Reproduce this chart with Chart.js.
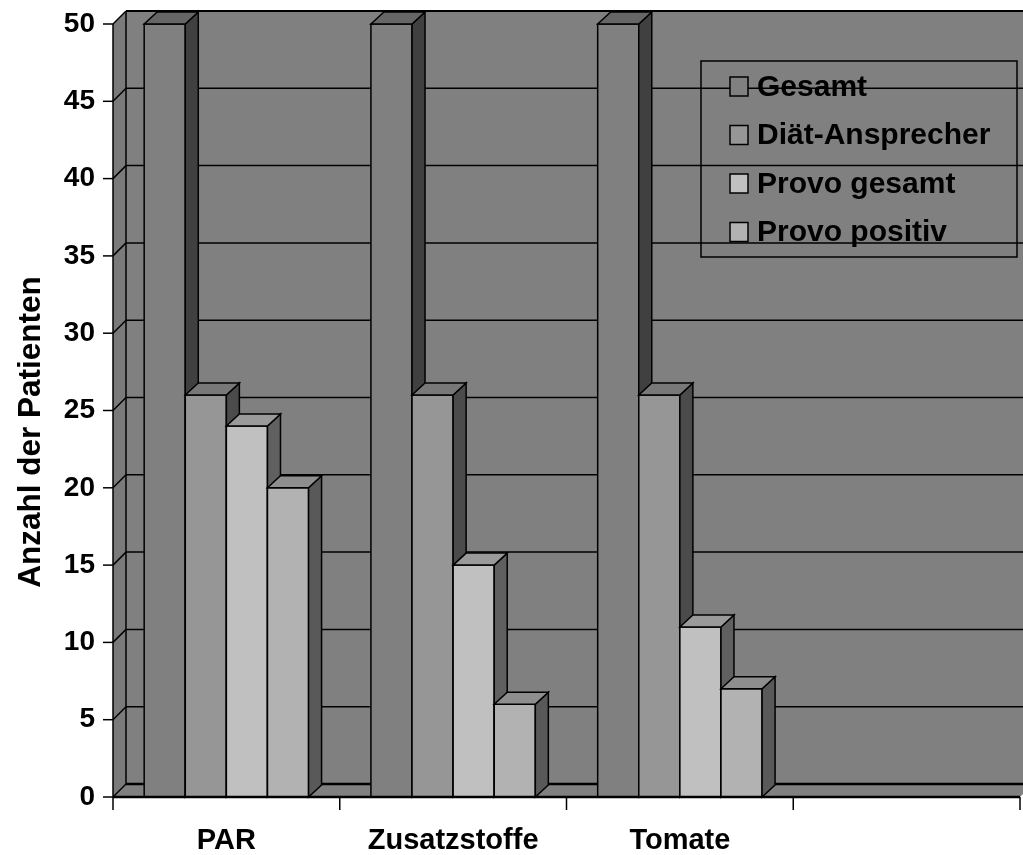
<!DOCTYPE html>
<html>
<head>
<meta charset="utf-8">
<title>Anzahl der Patienten</title>
<script src="https://cdn.jsdelivr.net/npm/chart.js@4/dist/chart.umd.min.js"></script>
<style>
  html, body { margin: 0; padding: 0; background: #ffffff; }
  canvas { display: block; }
</style>
</head>
<body>
<canvas id="chart" width="1023" height="855"></canvas>
<script>
// Categories on the x axis (the fourth slot is left empty)
const categories = ['PAR', 'Zusatzstoffe', 'Tomate', ''];

// Series names and values
const seriesNames = ['Gesamt', 'Diät-Ansprecher', 'Provo gesamt', 'Provo positiv'];
const gesamt          = [50, 50, 50, null];
const diaetAnsprecher = [26, 26, 26, null];
const provoGesamt     = [24, 15, 11, null];
const provoPositiv    = [20,  6,  7, null];

// Value axis
const yMin = 0;
const yMax = 50;
const yStep = 5;
const yTitle = 'Anzahl der Patienten';

// Face colours: front, top, side
const palette = [
  { front: '#808080', top: '#666666', side: '#404040' },
  { front: '#969696', top: '#787878', side: '#4b4b4b' },
  { front: '#c0c0c0', top: '#9a9a9a', side: '#606060' },
  { front: '#b2b2b2', top: '#8e8e8e', side: '#595959' }
];

const FONT = '"Liberation Sans", Arial, Helvetica, sans-serif';
const WALL_DX = 13, WALL_DY = 13;   // depth of the walls
const BAR_DX = 13, BAR_DY = 12;     // depth of each bar

function poly(ctx, pts, fill, stroke, lw) {
  ctx.beginPath();
  ctx.moveTo(pts[0][0], pts[0][1]);
  for (let i = 1; i < pts.length; i++) ctx.lineTo(pts[i][0], pts[i][1]);
  ctx.closePath();
  if (fill) { ctx.fillStyle = fill; ctx.fill(); }
  if (stroke) { ctx.strokeStyle = stroke; ctx.lineWidth = lw || 1.5; ctx.stroke(); }
}

function line(ctx, x1, y1, x2, y2, lw) {
  ctx.beginPath();
  ctx.moveTo(x1, y1);
  ctx.lineTo(x2, y2);
  ctx.strokeStyle = '#000';
  ctx.lineWidth = lw || 1.5;
  ctx.stroke();
}

// Walls, floor and back gridlines of the 3D box
const box3d = {
  id: 'box3d',
  beforeDatasetsDraw(chart) {
    const { ctx, chartArea: a, scales: { y } } = chart;
    const W = chart.width;
    const y0 = y.getPixelForValue(yMin);
    const yT = y.getPixelForValue(yMax);
    ctx.save();
    // back wall
    ctx.fillStyle = '#808080';
    ctx.fillRect(a.left + WALL_DX, yT - WALL_DY, W - a.left, y0 - yT);
    // left wall
    poly(ctx, [[a.left, yT], [a.left + WALL_DX, yT - WALL_DY], [a.left + WALL_DX, y0 - WALL_DY], [a.left, y0]], '#7a7a7a');
    // floor
    poly(ctx, [[a.left, y0], [a.left + WALL_DX, y0 - WALL_DY], [a.right + WALL_DX, y0 - WALL_DY], [a.right, y0]], '#808080');
    // gridlines on back wall and left wall
    for (let v = yMin; v <= yMax; v += yStep) {
      const py = y.getPixelForValue(v);
      line(ctx, a.left, py, a.left + WALL_DX, py - WALL_DY, 1.5);
      if (v > yMin) line(ctx, a.left + WALL_DX, py - WALL_DY, W, py - WALL_DY, v === yMax ? 2 : 1.5);
    }
    // back edge of floor
    line(ctx, a.left + WALL_DX, y0 - WALL_DY, W, y0 - WALL_DY, 2.5);
    // vertical edges
    line(ctx, a.left + WALL_DX, yT - WALL_DY, a.left + WALL_DX, y0 - WALL_DY, 1.5);
    line(ctx, a.left, yT, a.left, y0, 1.5);
    ctx.restore();
  },
  afterDatasetsDraw(chart) {
    const { ctx, chartArea: a, scales: { y } } = chart;
    const bars = [];
    chart.data.datasets.forEach((ds, di) => {
      const meta = chart.getDatasetMeta(di);
      meta.data.forEach((el, i) => {
        if (ds.data[i] == null) return;
        const p = el.getProps(['x', 'y', 'base', 'width'], true);
        bars.push({ ...p, c: palette[di] });
      });
    });
    bars.sort((m, n) => m.x - n.x);
    ctx.save();
    ctx.lineJoin = 'miter';
    for (const b of bars) {
      const l = b.x - b.width / 2, r = b.x + b.width / 2;
      // front face
      poly(ctx, [[l, b.y], [r, b.y], [r, b.base], [l, b.base]], b.c.front, '#000', 1.5);
      // side face
      poly(ctx, [[r, b.y], [r + BAR_DX, b.y - BAR_DY], [r + BAR_DX, b.base - BAR_DY], [r, b.base]], b.c.side, '#000', 1.5);
      // top face
      poly(ctx, [[l, b.y], [l + BAR_DX, b.y - BAR_DY], [r + BAR_DX, b.y - BAR_DY], [r, b.y]], b.c.top, '#000', 1.5);
    }
    // front edge of floor and axis tick marks
    const y0 = y.getPixelForValue(yMin);
    line(ctx, a.left, y0, a.right, y0, 2.5);
    for (let v = yMin; v <= yMax; v += yStep) {
      const py = y.getPixelForValue(v);
      line(ctx, a.left - 10, py, a.left, py, 1.5);
    }
    const n = categories.length;
    for (let i = 0; i <= n; i++) {
      const px = a.left + (a.right - a.left) * i / n;
      line(ctx, px, y0, px, y0 + 13, 1.5);
    }
    ctx.restore();
  },
  afterDraw(chart) {
    const { ctx } = chart;
    ctx.save();
    // y axis title
    ctx.translate(31, 432);
    ctx.rotate(-Math.PI / 2);
    ctx.fillStyle = '#000';
    ctx.font = 'bold 31.5px ' + FONT;
    ctx.textAlign = 'center';
    ctx.textBaseline = 'middle';
    ctx.fillText(yTitle, 0, 0);
    ctx.restore();

    // legend
    ctx.save();
    ctx.strokeStyle = '#000';
    ctx.lineWidth = 1.5;
    ctx.strokeRect(701, 61, 316, 196);
    ctx.font = 'bold 30px ' + FONT;
    ctx.textBaseline = 'middle';
    ctx.textAlign = 'left';
    chart.data.datasets.forEach((ds, i) => {
      const cy = 86.5 + i * 48.5;
      ctx.fillStyle = ds.backgroundColor;
      ctx.fillRect(730, cy - 9.5, 18, 19);
      ctx.strokeRect(730, cy - 9.5, 18, 19);
      ctx.fillStyle = '#000';
      ctx.fillText(ds.label, 757, cy + 1);
    });
    ctx.restore();
  }
};

const seriesValues = [gesamt, diaetAnsprecher, provoGesamt, provoPositiv];

new Chart(document.getElementById('chart'), {
  type: 'bar',
  data: {
    labels: categories,
    datasets: seriesNames.map((name, i) => ({
      label: name,
      data: seriesValues[i],
      backgroundColor: palette[i].front,
      borderColor: '#000',
      borderWidth: 0,
      categoryPercentage: 0.725,
      barPercentage: 1.0
    }))
  },
  options: {
    responsive: false,
    animation: false,
    events: [],
    layout: { padding: { top: 24, right: 3, left: 0, bottom: 0 } },
    plugins: {
      legend: { display: false },
      tooltip: { enabled: false }
    },
    scales: {
      x: {
        grid: { display: false },
        border: { display: false },
        ticks: {
          color: '#000',
          font: { family: FONT, size: 29, weight: 'bold' },
          padding: 19,
          maxRotation: 0,
          autoSkip: false
        },
        afterFit(s) { s.height = 58; s.paddingLeft = 0; s.paddingRight = 0; }
      },
      y: {
        min: yMin,
        max: yMax,
        grid: { display: false },
        border: { display: false },
        ticks: {
          stepSize: yStep,
          color: '#000',
          font: { family: FONT, size: 28, weight: 'bold' },
          padding: 10
        },
        afterFit(s) { s.width = 113; s.paddingTop = 0; s.paddingBottom = 0; }
      }
    }
  },
  plugins: [box3d]
});
</script>
</body>
</html>
